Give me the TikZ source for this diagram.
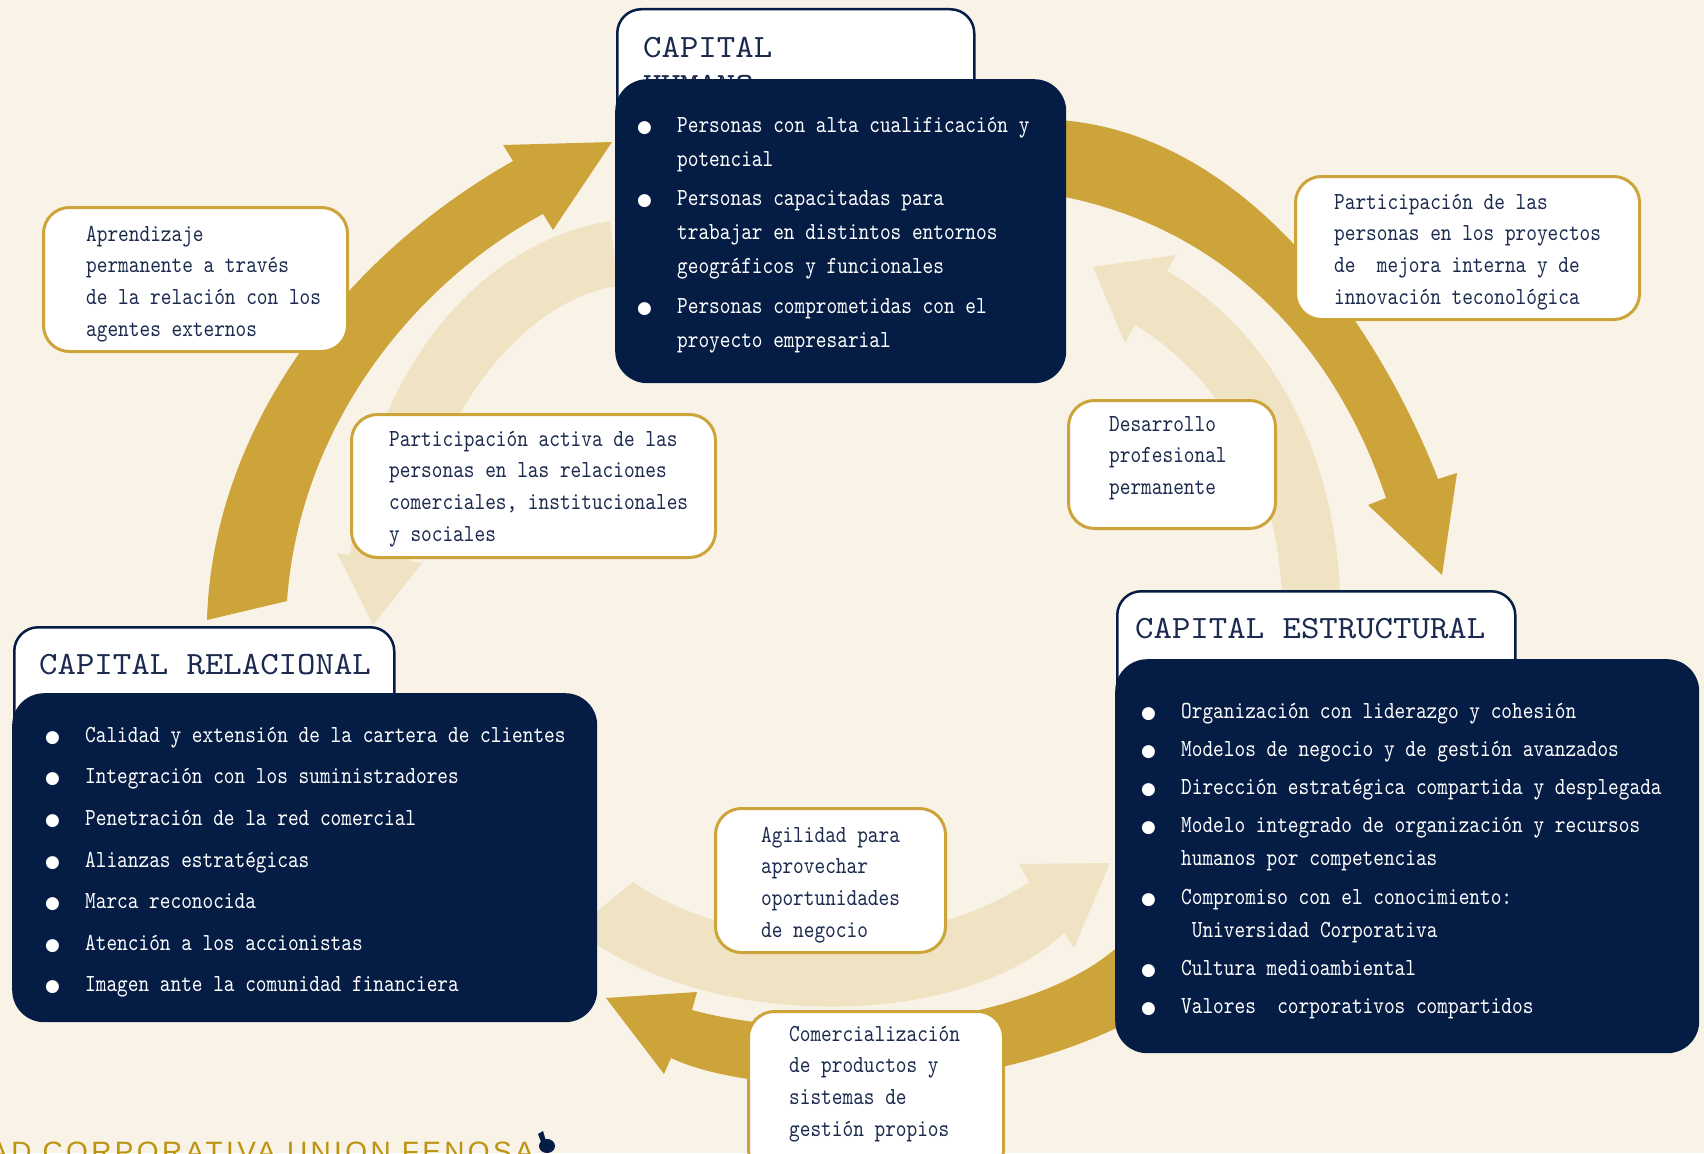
\documentclass[tikz,border=0pt]{standalone}
\usepackage{fontspec}
\usepackage{tikz}

\newfontfamily\titlefont[FakeStretch=1.08]{lmmono10-regular.otf}
\newfontfamily\bodyfont[FakeStretch=0.83]{lmmono10-regular.otf}
\newfontfamily\dotfont{DejaVu Sans}
\newfontfamily\footfont[LetterSpace=12]{Liberation Sans}

\definecolor{bgcream}{HTML}{F9F2E7}
\definecolor{navy}{HTML}{051D45}
\definecolor{inknavy}{HTML}{1B2A4E}
\definecolor{gold}{HTML}{CDA43A}
\definecolor{lightgold}{HTML}{F0E3C4}
\definecolor{footgold}{HTML}{BC9410}

% first-line struts and list helpers
\newcommand{\sttl}{\rule{0pt}{28pt}}
\newcommand{\stxt}{\rule{0pt}{24pt}}
\newcommand{\bul}{\makebox[41pt][l]{\hspace{1pt}{\dotfont\fontsize{17}{17}\selectfont ●}}}
\newcommand{\ind}{\hspace*{41pt}}

\begin{document}
\begin{tikzpicture}[
        x=1pt, y=-1pt,
        tabbox/.style={
            draw=navy,
            line width=2.5pt,
            fill=white,
            rounded corners=24pt,
            anchor=north west,
            inner sep=0
        },
        darkbox/.style={
            fill=navy,
            rounded corners=32pt,
            anchor=north west,
            inner sep=0
        },
        callout/.style={
            draw=gold,
            line width=3pt,
            fill=white,
            rounded corners=26pt,
            anchor=north west,
            inner sep=0
        },
        titletext/.style={
            font=\titlefont\fontsize{32.5}{38}\selectfont,
            text=inknavy,
            align=left,
            anchor=north west,
            inner sep=0
        },
        listtext/.style={
            font=\bodyfont\fontsize{24.5}{34}\selectfont,
            text=white,
            align=left,
            anchor=north west,
            inner sep=0
        },
        calltext/.style={
            font=\bodyfont\fontsize{24.5}{31.7}\selectfont,
            text=inknavy,
            align=left,
            anchor=north west,
            inner sep=0
        },
        goldarrow/.style={fill=gold},
        lightarrow/.style={fill=lightgold}
    ]
        % Canvas
        \useasboundingbox (0,0) rectangle (1704,1153);
        \clip (0,0) rectangle (1704,1153);
        \fill[bgcream] (0,0) rectangle (1704,1153);

        % Inner cycle (light arrows)
        \fill[lightarrow] (610,221) .. controls (470,245) and (370,380) .. (350,555)
            -- (337,553) -- (373,625) -- (422,563) -- (410,561)
            .. controls (430,420) and (520,300) .. (618,286) -- cycle;
        \fill[lightarrow] (1340,595) .. controls (1335,450) and (1270,330) .. (1167,271)
            -- (1176,255) -- (1093,267) -- (1125,343) -- (1135,325)
            .. controls (1210,370) and (1275,460) .. (1282,595) -- cycle;
        \fill[lightarrow] (633,882) .. controls (740,955) and (920,955) .. (1029,882)
            -- (1019,864) -- (1110,863) -- (1074,948) -- (1064,933)
            .. controls (960,1030) and (720,1030) .. (590,940) -- (580,925) -- cycle;

        % Outer cycle (gold arrows)
        \fill[goldarrow] (207,620) .. controls (212,440) and (330,265) .. (513,161)
            -- (503,145) -- (612,142) -- (553,230) -- (543,214)
            .. controls (420,280) and (300,420) .. (287,601) -- cycle;
        \fill[goldarrow] (1060,120) .. controls (1250,135) and (1380,330) .. (1438,479)
            -- (1457,473) -- (1442,575) -- (1368,505) -- (1386,498)
            .. controls (1335,345) and (1225,228) .. (1060,196) -- cycle;
        \fill[goldarrow] (1125,940) .. controls (1040,1025) and (820,1045) .. (692,1010)
            -- (697,992) -- (606,998) -- (664,1074) -- (671,1058)
            .. controls (760,1100) and (1000,1100) .. (1150,1010) -- cycle;

        % Capital humano
        \node[tabbox, minimum width=357, minimum height=190] (humtab) at (616,8) {};
        \node[titletext] (humtitle) at (643,29) {\sttl CAPITAL\\HUMANO};
        \node[darkbox, minimum width=451, minimum height=304] (humano) at (615,79) {};
        \node[listtext] (humlist) at (636,108) {\stxt\bul Personas con alta cualificación y\\
            \ind potencial\\[5.5pt]
            \bul Personas capacitadas para\\
            \ind trabajar en distintos entornos\\
            \ind geográficos y funcionales\\[5.5pt]
            \bul Personas comprometidas con el\\
            \ind proyecto empresarial};

        % Capital relacional
        \node[tabbox, minimum width=380, minimum height=150] (reltab) at (13,626) {};
        \node[titletext] (reltitle) at (39,646) {\sttl CAPITAL RELACIONAL};
        \node[darkbox, minimum width=585, minimum height=329] (relacional) at (12,693) {};
        \node[listtext] (rellist) at (44,718) {\stxt\bul Calidad y extensión de la cartera de clientes\\[7.6pt]
            \bul Integración con los suministradores\\[7.6pt]
            \bul Penetración de la red comercial\\[7.6pt]
            \bul Alianzas estratégicas\\[7.6pt]
            \bul Marca reconocida\\[7.6pt]
            \bul Atención a los accionistas\\[7.6pt]
            \bul Imagen ante la comunidad financiera};

        % Capital estructural
        \node[tabbox, minimum width=398, minimum height=150] (esttab) at (1116,590) {};
        \node[titletext] (esttitle) at (1135,610) {\sttl CAPITAL ESTRUCTURAL};
        \node[darkbox, minimum width=584, minimum height=394] (estructural) at (1115,659) {};
        \node[listtext, font=\bodyfont\fontsize{24.5}{33}\selectfont] (estlist) at (1140,694) {\stxt\bul Organización con liderazgo y cohesión\\[5.2pt]
            \bul Modelos de negocio y de gestión avanzados\\[5.2pt]
            \bul Dirección estratégica compartida y desplegada\\[5.2pt]
            \bul Modelo integrado de organización y recursos\\
            \ind humanos por competencias\\[5.2pt]
            \bul Compromiso con el conocimiento:\\
            \ind\ Universidad Corporativa\\[5.2pt]
            \bul Cultura medioambiental\\[5.2pt]
            \bul Valores \ corporativos compartidos};

        % Callouts on the arrows
        \foreach \n/\x/\y/\w/\h in {aprend/42/206/304/144, activa/350/413/364/143,
                mejora/1294/175/344/143, desarr/1067/399/207/128,
                agil/714/807/230/144, comer/747/1010/255/165} {
            \node[callout, minimum width=\w, minimum height=\h] (\n) at (\x,\y) {};
        }
        \node[calltext] (aprendtxt) at (86,217) {\stxt Aprendizaje\\permanente a través\\de la relación con los\\agentes externos};
        \node[calltext] (activatxt) at (389,422) {\stxt Participación activa de las\\personas en las relaciones\\comerciales, institucionales\\y sociales};
        \node[calltext] (mejoratxt) at (1334,185) {\stxt Participación de las\\personas en los proyectos\\de \ mejora interna y de\\innovación teconológica};
        \node[calltext] (desarrtxt) at (1109,407) {\stxt Desarrollo\\profesional\\permanente};
        \node[calltext] (agiltxt) at (761,818) {\stxt Agilidad para\\aprovechar\\oportunidades\\de negocio};
        \node[calltext] (comertxt) at (789,1017) {\stxt Comercialización\\de productos y\\sistemas de\\gestión propios};

        % Footer
        \node[font=\footfont\fontsize{28}{28}\selectfont, text=footgold, anchor=north east, inner sep=0] (footer) at (534,1142) {AD CORPORATIVA UNION FENOSA};
        \fill[navy] (547,1146) ellipse (8 and 7);
        \fill[navy] (538,1134) -- (543,1131) -- (546,1141) -- (541,1142) -- cycle;
    \end{tikzpicture}
\end{document}
